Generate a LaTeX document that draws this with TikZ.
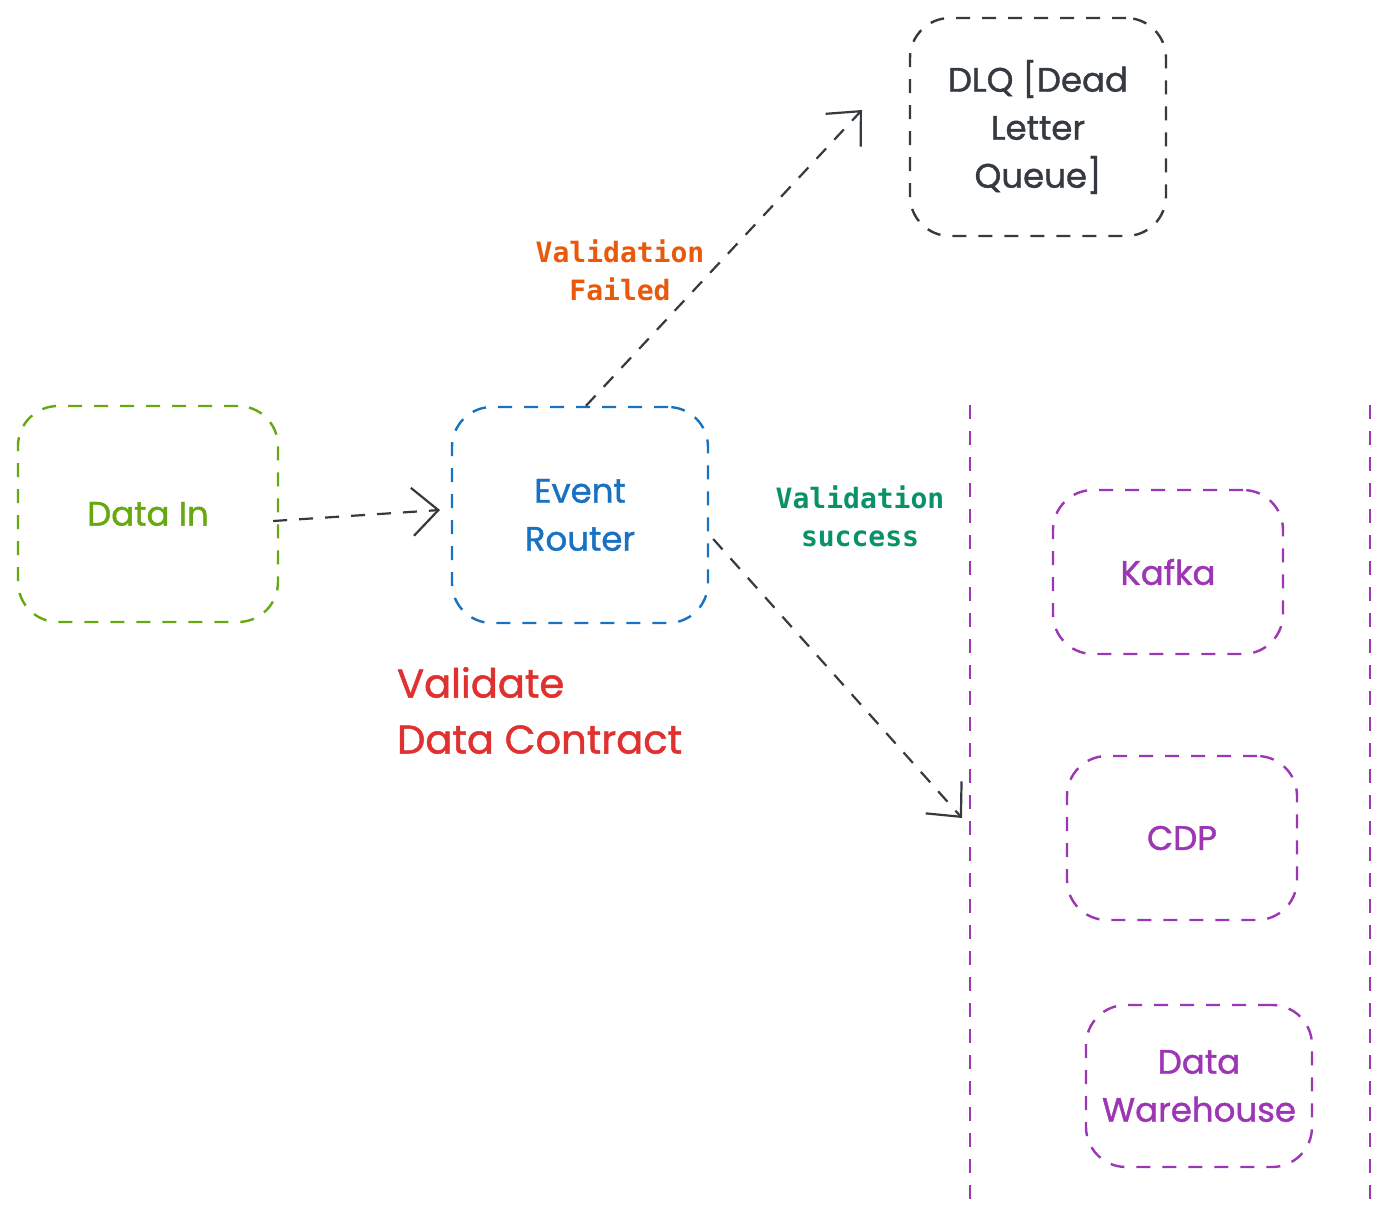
\documentclass[tikz,border=0pt]{standalone}
\usepackage{fontspec}
\setmainfont{Poppins}
\newfontfamily\monofont{DejaVu Sans Mono}
\newfontfamily\medfont{Poppins}[FakeBold=1.2]
\usetikzlibrary{arrows.meta}
\definecolor{cgreen}{HTML}{66A80F}
\definecolor{cblue}{HTML}{1971C2}
\definecolor{cdark}{HTML}{343A40}
\definecolor{cpurple}{HTML}{9C36B5}
\definecolor{corange}{HTML}{E8590C}
\definecolor{cteal}{HTML}{099268}
\definecolor{cred}{HTML}{E03131}
\tikzset{
  box/.style={draw, line width=1.2pt, dash pattern=on 7pt off 6pt, rounded corners=20pt,
    align=center, font=\medfont\fontsize{17}{24}\selectfont},
  flow/.style={draw=cdark, line width=1.1pt, dash pattern=on 7pt off 6pt,
    -{Straight Barb[length=13pt,width=24pt,line width=1.1pt]}},
  lbl/.style={align=center, font=\monofont\bfseries\fontsize{14}{19}\selectfont},
  lane/.style={draw=cpurple, line width=1.2pt, dash pattern=on 7pt off 6pt}
}
\begin{document}
\begin{tikzpicture}[x=0.5pt,y=-0.5pt]
  \useasboundingbox (0,0) rectangle (1391,1230);

  \node[box, draw=cgreen, text=cgreen, minimum width=130pt, minimum height=108pt] (datain) at (148,514) {Data In};
  \node[box, draw=cblue, text=cblue, minimum width=128pt, minimum height=108pt] (router) at (580,515) {Event\\Router};
  \node[box, draw=cdark, text=cdark, minimum width=128pt, minimum height=109pt] (dlq) at (1038,127) {DLQ [Dead\\Letter\\Queue]};
  \node[box, draw=cpurple, text=cpurple, minimum width=115pt, minimum height=82pt] (kafka) at (1168,572) {Kafka};
  \node[box, draw=cpurple, text=cpurple, minimum width=115pt, minimum height=82pt] (cdp) at (1182,838) {CDP};
  \node[box, draw=cpurple, text=cpurple, minimum width=113pt, minimum height=81pt] (dwh) at (1199,1086) {Data\\Warehouse};

  \coordinate (lanetop) at (970,405);
  \coordinate (lanebot) at (970,1205);
  \coordinate (edgetop) at (1370,405);
  \coordinate (edgebot) at (1370,1205);
  \draw[lane] (lanetop) -- (lanebot);
  \draw[lane] (edgetop) -- (edgebot);

  \coordinate (okend) at (962,818);
  \coordinate (failend) at (862,110);
  \coordinate (inend) at (440,510);
  \draw[flow] (datain.east) ++(-3pt,-3.5pt) -- (inend);
  \draw[flow] (router.north) ++(3pt,0) -- (failend);
  \draw[flow] (router.east) ++(2pt,-12pt) -- (okend);

  \node[lbl, text=corange] (failed) at (620,270) {Validation\\Failed};
  \node[lbl, text=cteal] (success) at (860,516) {Validation\\success};
  \node[align=left, anchor=north west, text=cred, font=\medfont\fontsize{20}{28}\selectfont] (contract) at (390,660) {Validate\\Data Contract};
\end{tikzpicture}
\end{document}
